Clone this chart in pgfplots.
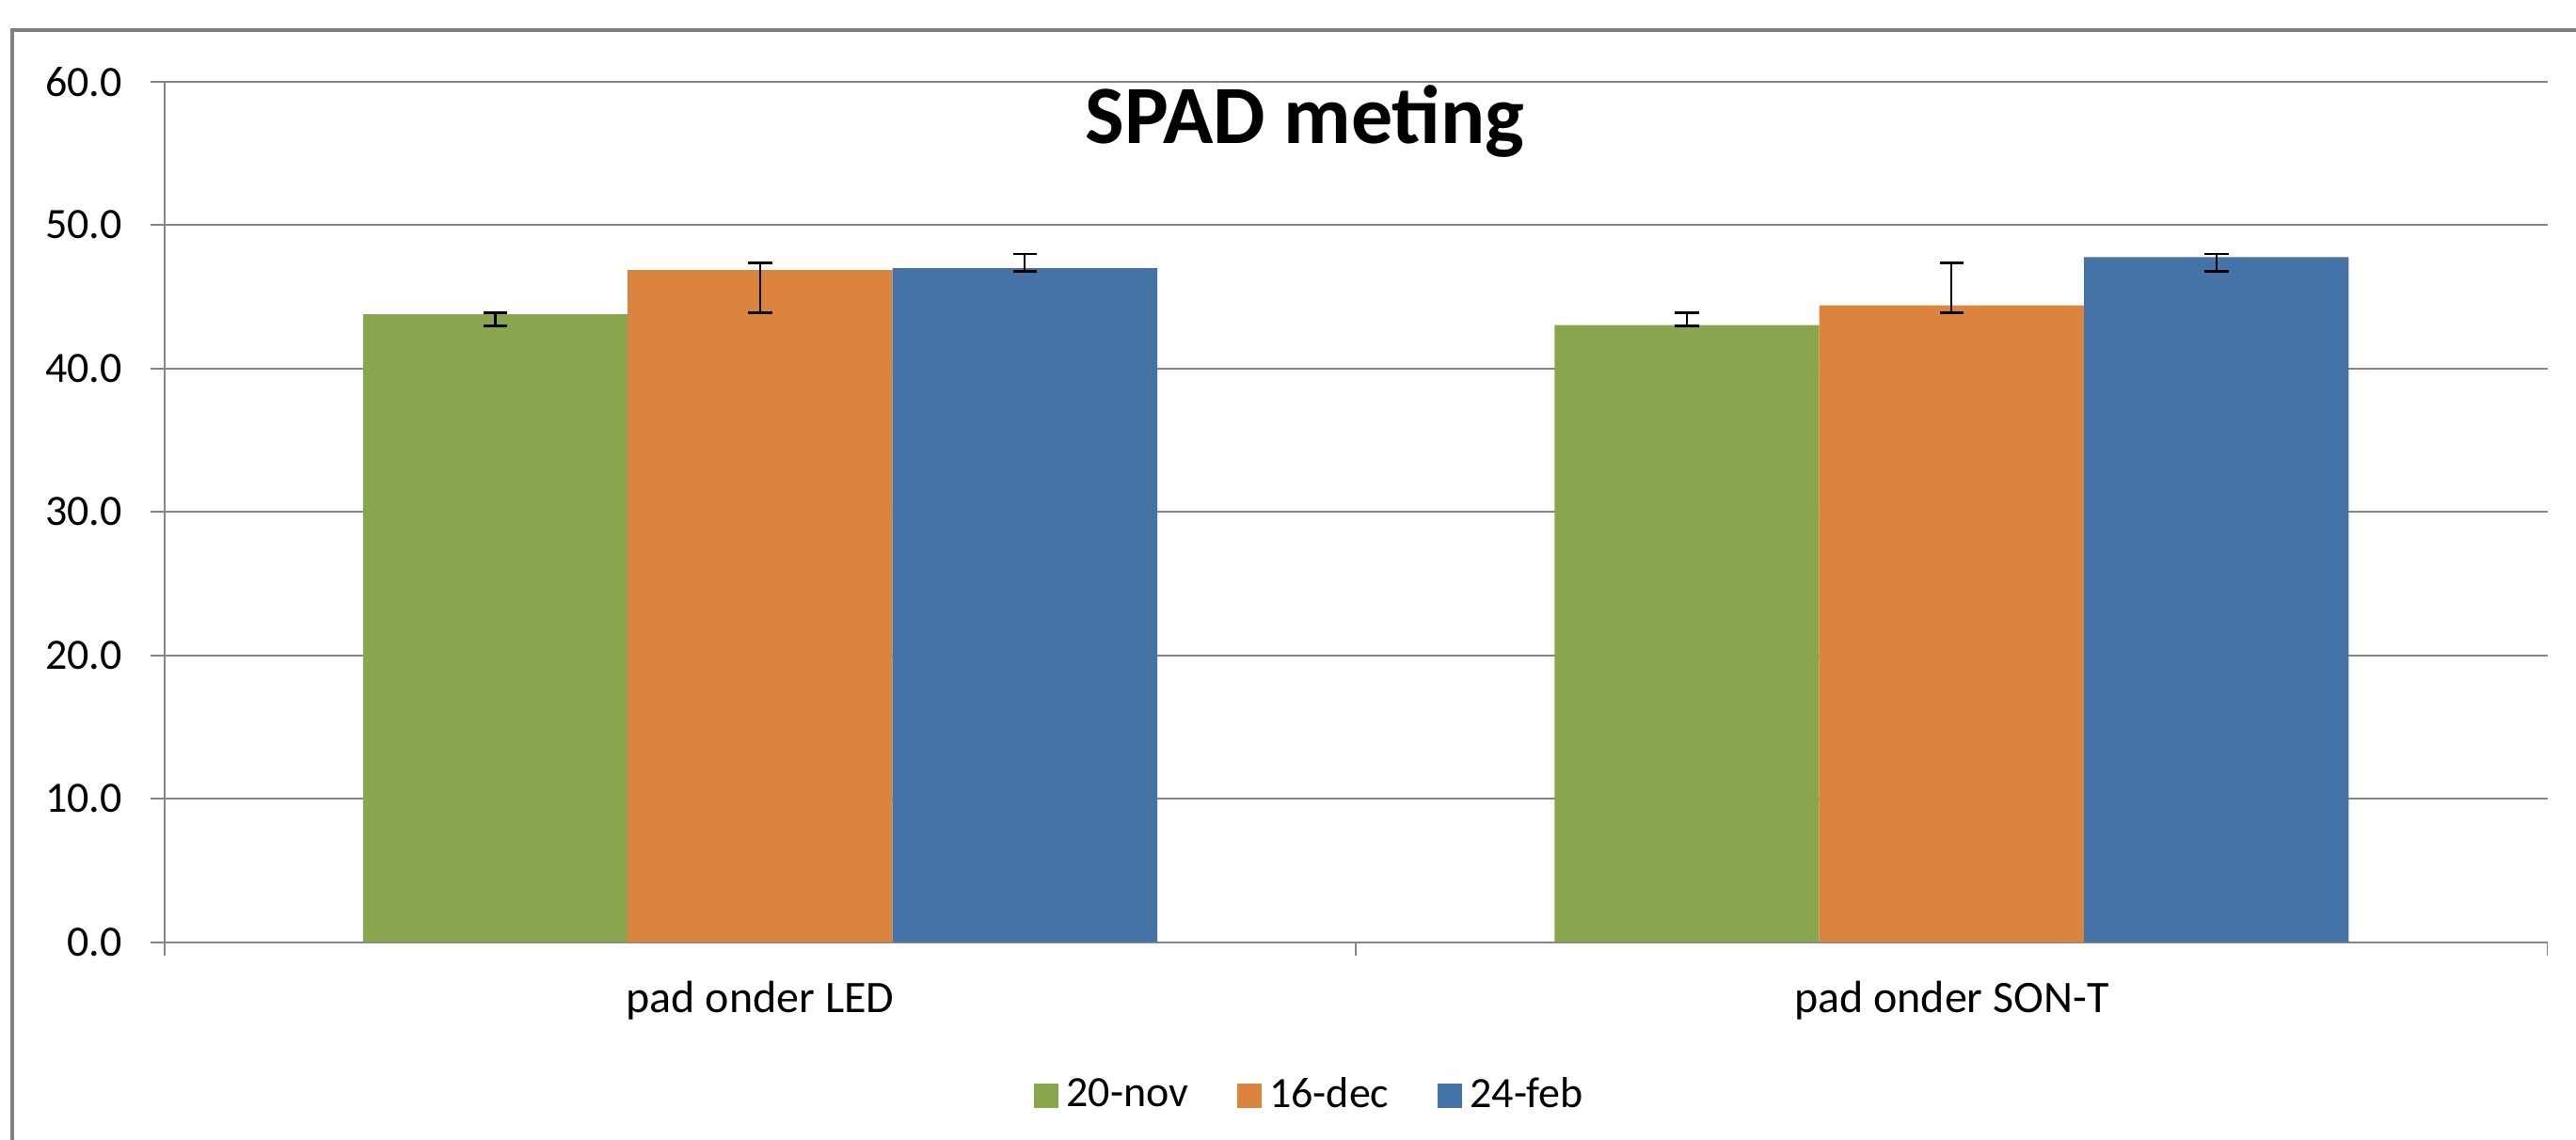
\documentclass[border=0pt]{standalone}
\usepackage{fontspec}
\setmainfont{Carlito}
\usepackage{pgfplots}
\pgfplotsset{compat=1.18}
\usepackage{pgfplotstable}

\definecolor{cgreen}{HTML}{89A54E}
\definecolor{corange}{HTML}{DB843D}
\definecolor{cblue}{HTML}{4572A7}
\definecolor{gridgray}{HTML}{868686}
\definecolor{bordergray}{HTML}{808080}

% x: bar centre (category 0 = pad onder LED, 1 = pad onder SON-T, bars offset by 0.2222)
\pgfplotstableread{
x y ep em
-0.2222 43.78 0.12 0.83
0.7778 43.02 0.88 0.07
}\nov
\pgfplotstableread{
x y ep em
0 46.85 0.52 2.98
1 44.39 2.98 0.52
}\dec
\pgfplotstableread{
x y ep em
0.2222 46.98 1.00 0.23
1.2222 47.76 0.22 1.01
}\feb

\pgfplotsset{
  sq legend/.style={legend image code/.code={\fill[##1] (0pt,-3.25pt) rectangle (6.5pt,3.25pt);}},
  mybar/.style={ybar, bar width=0.2222, bar shift=0, draw=none, fill=#1, sq legend,
    error bars/y dir=both, error bars/y explicit,
    error bars/error bar style={draw=black, line width=0.55pt},
    error bars/error mark options={draw=black, rotate=90, mark size=3.2pt, line width=0.7pt}},
}

\begin{document}
\begin{tikzpicture}
\useasboundingbox (0,0) rectangle (684.5pt,302.75pt);
\draw[bordergray, line width=0.8pt] (3.25pt,-2pt) -- (3.25pt,294.75pt) -- (690pt,294.75pt);
\begin{axis}[
  at={(43.68pt,52.33pt)}, anchor=south west,
  scale only axis, width=633.2pt, height=228.75pt,
  xmin=-0.5, xmax=1.5, ymin=0, ymax=60,
  axis x line*=bottom, axis y line*=left,
  axis line style={gridgray, line width=0.45pt},
  ytick={0,10,...,60},
  ymajorgrids, grid style={gridgray, line width=0.45pt},
  tick align=outside, major tick length=3.7pt,
  tick style={gridgray, line width=0.45pt},
  xtick={-0.5,0.5,1.5}, xticklabels={},
  extra x ticks={0,1},
  extra x tick labels={pad onder LED, pad onder SON-T},
  extra x tick style={major tick length=0pt},
  xticklabel style={anchor=base, yshift=-18.75pt, font=\fontsize{12}{14}\selectfont},
  yticklabel style={font=\fontsize{11.5}{13}\selectfont},
  ticklabel style={text=black},
  yticklabel style={xshift=-4pt, /pgf/number format/.cd, fixed, fixed zerofill, precision=1, assume math mode=true},
  legend style={at={(0.4818,-0.1785)}, anchor=center, draw=none, fill=none,
    legend columns=3, font=\fontsize{11.5}{13}\selectfont,
    /tikz/every even column/.append style={column sep=11pt}},
]
\addplot[mybar=cgreen] table[x=x, y=y, y error plus=ep, y error minus=em] {\nov};
\addlegendentry{20-nov}
\addplot[mybar=corange] table[x=x, y=y, y error plus=ep, y error minus=em] {\dec};
\addlegendentry{16-dec}
\addplot[mybar=cblue] table[x=x, y=y, y error plus=ep, y error minus=em] {\feb};
\addlegendentry{24-feb}
\end{axis}
\node[font=\fontsize{22}{26}\selectfont\bfseries, anchor=base] at (346.75pt,264.6pt) {SPAD meting};
\end{tikzpicture}
\end{document}
